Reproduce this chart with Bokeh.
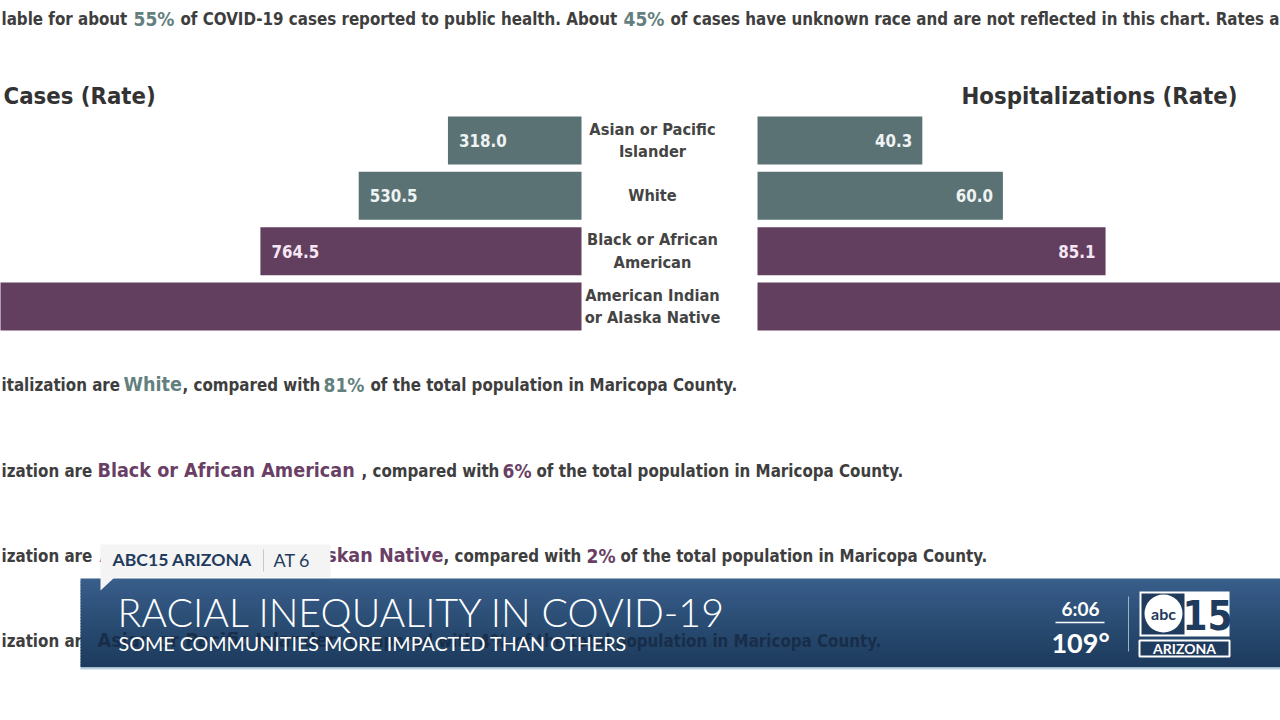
from bokeh.plotting import figure
from bokeh.models import Range1d, ColumnDataSource
from bokeh.core.properties import value
from bokeh.embed import file_html
from bokeh.resources import INLINE

# ---------------- data ----------------
categories = ["Asian or Pacific\nIslander", "White",
              "Black or African\nAmerican", "American Indian\nor Alaska Native"]
case_rates = [318.0, 530.5, 764.5, 1700.0]
hosp_rates = [40.3, 60.0, 85.1, 170.0]
highlight = ["gray", "gray", "purple", "purple"]

# ---------------- style ----------------
BAR = {"gray": "#5b7274", "purple": "#633f5f"}
LBL = {"gray": "#eef3f3", "purple": "#f6e6f4"}
TXT = "#3e3e3e"
TEAL = "#62807e"
PURP = "#6a3f66"
NAVY = "#1f3b5e"
F = value("Noto Sans Condensed, DejaVu Sans Condensed, Liberation Sans Narrow, Liberation Sans")
FB = value("Lato")
FL = value("Lato Light, Lato")
BODY = "16.8px"
HI = "19.6px"

W, H = 1280, 720
CASE_ZERO, CASE_PX = 581, 0.42
HOSP_ZERO, HOSP_PX = 757, 4.09
ROW0, ROW_PX = 140, 55.33

rows = list(range(len(categories)))
# value labels only where the bar end lies inside the visible window
case_txt = [f"{v:.1f}" if CASE_ZERO - v * CASE_PX > 0 else "" for v in case_rates]
hosp_txt = [f"{v:.1f}" if HOSP_ZERO + v * HOSP_PX < W else "" for v in hosp_rates]
src = ColumnDataSource(dict(
    row=rows, cat=categories, cases=case_rates, hosp=hosp_rates,
    bar=[BAR[h] for h in highlight], lbl=[LBL[h] for h in highlight],
    case_txt=case_txt, hosp_txt=hosp_txt,
))

p = figure(width=W, height=H, x_range=Range1d(0, W), y_range=Range1d(H, 0),
           output_backend="svg", toolbar_location=None, min_border=0,
           x_axis_location=None, y_axis_location=None,
           outline_line_color=None, background_fill_color="white",
           border_fill_color="white")
p.grid.visible = False

p.extra_x_ranges = {
    "cases": Range1d(start=CASE_ZERO / CASE_PX, end=(CASE_ZERO - W) / CASE_PX),
    "hosp": Range1d(start=-HOSP_ZERO / HOSP_PX, end=(W - HOSP_ZERO) / HOSP_PX),
}
p.extra_y_ranges = {"rows": Range1d(start=(H - ROW0) / ROW_PX, end=-ROW0 / ROW_PX)}
BAR_H = 48 / ROW_PX


def seg(x, y, txt, color, size=BODY, font=F, style="bold", align="left", alpha=1.0):
    p.text(x=[x], y=[y], text=[txt], text_font=font, text_font_style=style,
           text_font_size=size, text_color=color, text_baseline="middle",
           text_align=align, text_alpha=alpha)


# ---------------- top note ----------------
seg(1, 18, "lable for about", TXT)
seg(133, 18, "55%", TEAL, size="19px")
seg(180, 18, "of COVID-19 cases reported to public health. About", TXT)
seg(623, 18, "45%", TEAL, size="19px")
seg(670, 18, "of cases have unknown race and are not reflected in this chart. Rates a", TXT)

# ---------------- titles ----------------
seg(3, 95, "Cases (Rate)", "#333333", size="23.7px")
seg(1237, 95, "Hospitalizations (Rate)", "#333333", size="23.7px", align="right")

# ---------------- bars ----------------
p.hbar(y="row", left=0, right="cases", height=BAR_H, fill_color="bar", line_color=None,
       x_range_name="cases", y_range_name="rows", source=src)
p.hbar(y="row", left=0, right="hosp", height=BAR_H, fill_color="bar", line_color=None,
       x_range_name="hosp", y_range_name="rows", source=src)
p.text(x="cases", y="row", text="case_txt", x_offset=11, text_align="left",
       text_baseline="middle", text_font=F, text_font_style="bold", text_font_size="16.8px",
       text_color="lbl", x_range_name="cases", y_range_name="rows", source=src)
p.text(x="hosp", y="row", text="hosp_txt", x_offset=-10, text_align="right",
       text_baseline="middle", text_font=F, text_font_style="bold", text_font_size="16.8px",
       text_color="lbl", x_range_name="hosp", y_range_name="rows", source=src)
p.text(x=652, y="row", text="cat", text_align="center", text_baseline="middle",
       text_font=F, text_font_style="bold", text_font_size="16.3px", text_line_height=1.2,
       text_color="#444444", y_range_name="rows", source=src)

# ---------------- paragraphs ----------------
seg(1, 384, "italization are", TXT)
seg(123, 384, "White", TEAL, size=HI)
seg(182, 384, ", compared with", TXT)
seg(323, 384, "81%", TEAL, size="19px")
seg(370, 384, "of the total population in Maricopa County.", TXT)

seg(1, 470, "ization are", TXT)
seg(97, 470, "Black or African American", PURP, size=HI)
seg(361, 470, ", compared with", TXT)
seg(502, 470, "6%", PURP, size="19px")
seg(536, 470, "of the total population in Maricopa County.", TXT)

seg(1, 555, "ization are", TXT)
seg(443, 555, "American Indian or Alaskan Native", PURP, size=HI, align="right")
seg(443, 555, ", compared with", TXT)
seg(586, 555, "2%", PURP, size="19px")
seg(620, 555, "of the total population in Maricopa County.", TXT)

hidden = [(97, "Asian or Pacific Islander", PURP, HI), (337, ", compared with", TXT, BODY),
          (478, "4%", PURP, "19px"), (514, "of the total population in Maricopa County.", TXT, BODY)]
seg(1, 640, "ization are", TXT)
for hx, ht, hc, hs in hidden:
    seg(hx, 640, ht, hc, size=hs)

# ---------------- lower-third banner ----------------
top, bot, n = 578, 667, 30
c0, c1 = (56, 94, 138), (29, 59, 93)
for i in range(n):
    t = i / (n - 1)
    col = "#%02x%02x%02x" % tuple(int(a + (b - a) * t) for a, b in zip(c0, c1))
    y0 = top + (bot - top) * i / n
    y1 = top + (bot - top) * (i + 1) / n + 1.2
    p.quad(left=80, right=W, top=y0, bottom=min(y1, bot), fill_color=col, line_color=None)
p.quad(left=80, right=W, top=667, bottom=669, fill_color="#b9d3e3", line_color=None)
# text showing faintly through the banner
for hx, ht, hc, hs in hidden:
    seg(hx, 640, ht, "#14263f", size=hs, alpha=0.75)

# tag
p.quad(left=100, right=330, top=544, bottom=577, fill_color="#f4f4f4", line_color=None)
p.patch(x=[100, 114, 100], y=[577, 577, 590], fill_color="#f4f4f4", line_color=None)
seg(112, 559, "ABC15 ARIZONA", NAVY, size="17.6px", font=FB)
p.segment(x0=263, y0=549, x1=263, y1=571, line_color="#c8c8c8", line_width=1)
seg(273, 559, "AT 6", NAVY, size="18px", font=FB, style="normal")

seg(117, 611, "RACIAL INEQUALITY IN COVID-19", "white", size="39.3px", font=FL, style="normal")
seg(118, 643, "SOME COMMUNITIES MORE IMPACTED THAN OTHERS", "white", size="19.7px", font=FB,
    style="normal")

# time / temp
seg(1080, 608, "6:06", "white", size="19px", font=FB, align="center")
p.segment(x0=1055, y0=622, x1=1104, y1=622, line_color="white", line_width=1.5)
seg(1080, 642, "109°", "white", size="27px", font=FB, align="center")
p.segment(x0=1128, y0=596, x1=1128, y1=651, line_color="#9fb3c8", line_width=1)

# logo
p.quad(left=1139, right=1229, top=591, bottom=636, fill_color="white", line_color=None)
p.quad(left=1141, right=1184, top=593, bottom=634, fill_color=NAVY, line_color=None)
p.scatter(x=[1163], y=[613], size=38, marker="circle", fill_color="white", line_color=None)
seg(1163, 613, "abc", NAVY, size="16px", font=FB, align="center")
seg(1207, 614, "15", NAVY, size="40px", font=F, align="center")
p.quad(left=1139, right=1229, top=640, bottom=656, fill_color=NAVY, line_color="white",
       line_width=2)
seg(1184, 648, "ARIZONA", "white", size="14px", font=FB, align="center")

open("out.html", "w").write(file_html(p, INLINE))
